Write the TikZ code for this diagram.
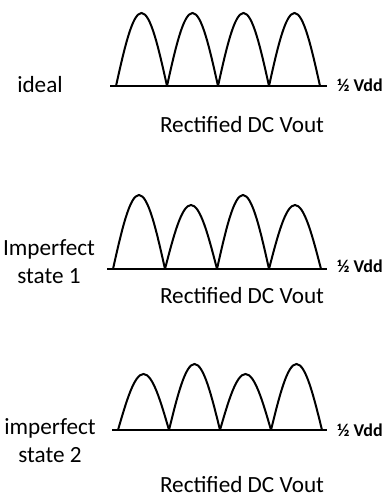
\documentclass[tikz,border=0pt]{standalone}
\usepackage{fontspec}
\setmainfont{Carlito}
\begin{document}
\begin{tikzpicture}[x=0.5pt,y=-0.5pt,line width=1pt]

\tikzset{
  lbl/.style={anchor=base,font=\fontsize{11.6}{14}\selectfont,align=center,inner sep=0pt},
  vdd/.style={anchor=base west,font=\fontsize{9}{10}\selectfont\bfseries,inner sep=0pt}
}

\newcommand{\myhump}[4]{% x depart, y base, largeur, hauteur
\draw (#1,#2) sin (#1+#3/2,#2-#4) cos (#1+#3,#2);
}

\useasboundingbox (0,0) rectangle (387,496);

%ideal
\draw (110,86) -- (327,86);
\myhump{116}{86}{51}{73}
\myhump{167}{86}{51}{73}
\myhump{218}{86}{51}{73}
\myhump{269}{86}{51}{73}
\node[lbl] (ideal) at (40,93) {ideal};
\node[vdd] (vdd1) at (336,92) {½ Vdd};
\node[lbl] (out1) at (242,133) {Rectified DC Vout};

%imperfect state 1
\draw (107,269) -- (327,269);
\myhump{113}{269}{52}{74}
\myhump{165}{269}{52}{64}
\myhump{217}{269}{52}{74}
\myhump{269}{269}{52}{64}
\node[lbl] (imp1) at (49,283) {Imperfect\\state 1};
\node[vdd] (vdd2) at (336,272) {½ Vdd};
\node[lbl] (out2) at (242,303) {Rectified DC Vout};

%imperfect state 2
\draw (112,430) -- (327,430);
\myhump{118}{430}{51}{56}
\myhump{169}{430}{51}{66}
\myhump{220}{430}{51}{56}
\myhump{271}{430}{51}{66}
\node[lbl] (imp2) at (50,462) {imperfect\\state 2};
\node[vdd] (vdd3) at (336,436) {½ Vdd};
\node[lbl] (out3) at (242,492) {Rectified DC Vout};

\end{tikzpicture}
\end{document}
